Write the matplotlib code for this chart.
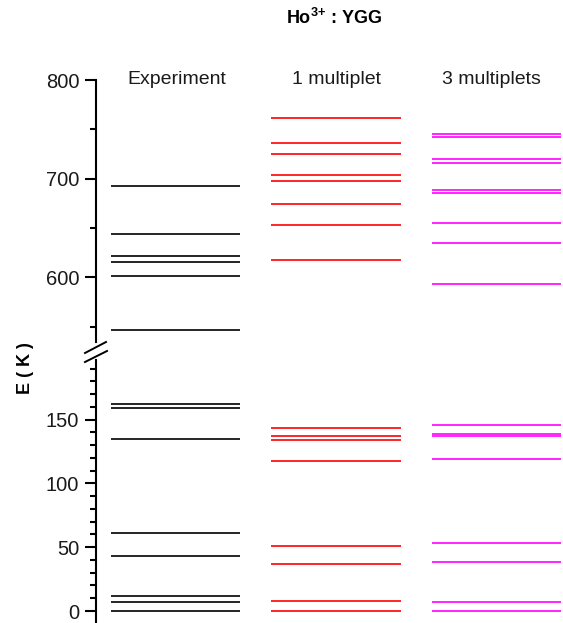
import matplotlib
matplotlib.use("Agg")
import matplotlib.pyplot as plt
from matplotlib.lines import Line2D
from matplotlib.ticker import MultipleLocator

plt.rcParams['font.family'] = ['Liberation Sans', 'DejaVu Sans']
plt.rcParams['mathtext.fontset'] = 'custom'
plt.rcParams['mathtext.rm'] = 'Liberation Sans'
plt.rcParams['mathtext.bf'] = 'Liberation Sans:bold'

# ---- data ----
columns = ["Experiment", "1 multiplet", "3 multiplets"]
colors = ["#000000", "#ff0000", "#ff00ff"]
experiment = [0, 7.3, 11.8, 42.9, 61.4, 134.8, 159.1, 162.5,
              546.6, 601.4, 615.2, 621.3, 643.6, 692.6]
one_multiplet = [0, 7.8, 36.6, 51.2, 117.8, 134.0, 137.4, 143.4,
                 617.9, 653.4, 674.0, 698.0, 703.7, 725.3, 736.5, 761.8]
three_multiplets = [0, 7.3, 38.7, 53.0, 119.4, 137.2, 139.0, 145.8,
                    593.6, 634.8, 655.1, 685.8, 688.9, 715.9, 720.3, 742.2, 744.9]
series = [experiment, one_multiplet, three_multiplets]
title = r"Ho$^{\mathbf{3}}$$^{\mathbf{+}}$ : YGG"
ylabel = "E ( K )"
upper_ylim = (535, 800)
lower_ylim = (-9.4, 196.5)

W, H = 563, 623
fig = plt.figure(figsize=(W / 100, H / 100), dpi=100)

ax_left = 96 / W
ax_w = 1 - ax_left
ax_up = fig.add_axes([ax_left, 1 - 341.5 / H, ax_w, (341.5 - 80) / H])
ax_lo = fig.add_axes([ax_left, 0.0, ax_w, (H - 360.3) / H])

xlim = (-0.495, 2.414)
half = 0.402
lw_axis = 1.5
tick_color = "#1a1a1a"

for ax, ylim in ((ax_up, upper_ylim), (ax_lo, lower_ylim)):
    ax.set_xlim(*xlim)
    ax.set_ylim(*ylim)
    for s in ("top", "right", "bottom"):
        ax.spines[s].set_visible(False)
    ax.spines["left"].set_linewidth(lw_axis)
    ax.set_xticks([])
    ax.tick_params(axis="y", which="major", direction="out", length=8,
                   width=lw_axis, labelsize=14.5, pad=4, labelcolor=tick_color)
    ax.tick_params(axis="y", which="minor", direction="out", length=4.5,
                   width=lw_axis)
    ax.patch.set_alpha(0)
    for i, vals in enumerate(series):
        ax.hlines([v for v in vals if ylim[0] <= v <= ylim[1]],
                  i - half, i + half, colors=colors[i], lw=1.2)

ax_up.yaxis.set_major_locator(MultipleLocator(100))
ax_up.yaxis.set_minor_locator(MultipleLocator(50))
ax_lo.yaxis.set_major_locator(MultipleLocator(50))
ax_lo.yaxis.set_minor_locator(MultipleLocator(10))

# column labels
label_x = [0.01, 0.0, -0.03]
for i, name in enumerate(columns):
    ax_up.text(i + label_x[i], 800, name, ha="center", va="center",
               fontsize=14, color=tick_color, clip_on=False)

# title and y label
fig.text(334 / W, 1 - 18 / H, title, ha="center", va="center",
         fontsize=13, fontweight="bold")
fig.text(25 / W, 1 - 368.5 / H, ylabel, ha="center", va="center",
         rotation=90, fontsize=13, fontweight="bold")

# axis break marks
for (x0, y0, x1, y1) in ((85, 353, 106, 342), (85, 362, 107, 351)):
    fig.add_artist(Line2D([x0 / W, x1 / W], [1 - y0 / H, 1 - y1 / H],
                          transform=fig.transFigure, color="black", lw=1.4))

fig.savefig("out.png", dpi=100)
